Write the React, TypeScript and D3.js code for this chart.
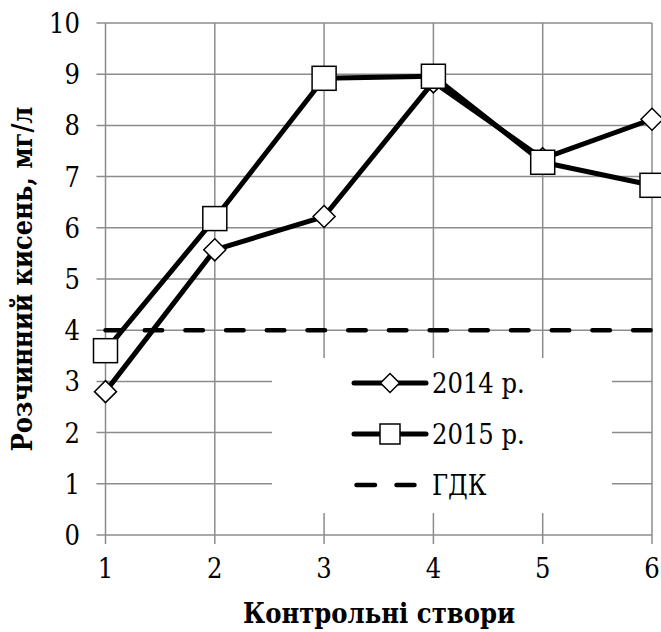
import { useEffect, useRef } from 'react';
import * as d3 from 'd3';

// дані
const stations = [1, 2, 3, 4, 5, 6];
const values2014 = [2.8, 5.57, 6.22, 8.85, 7.35, 8.12];
const values2015 = [3.6, 6.18, 8.92, 8.96, 7.28, 6.83];
const gdk = 4;
const yTicks = [0, 1, 2, 3, 4, 5, 6, 7, 8, 9, 10];
const legendLabels = ['2014 р.', '2015 р.', 'ГДК'];

const W = 661;
const H = 632;
// Liberation Serif тут рендериться як sans, тому беремо DejaVu Serif Condensed
const FONT = "'DejaVu Serif Condensed', 'DejaVu Serif'";
const GRID = '#8c8c8c';

export default function App() {
  const ref = useRef<SVGSVGElement | null>(null);

  useEffect(() => {
    if (!ref.current) return;
    const svg = d3.select(ref.current);
    svg.selectAll('*').remove();

    const x = d3.scaleLinear().domain([1, 6]).range([105.5, 652]);
    const y = d3.scaleLinear().domain([0, 10]).range([535, 23]);

    const g = svg.append('g');

    // сітка
    g.selectAll('line.hgrid')
      .data(yTicks)
      .enter()
      .append('line')
      .attr('x1', x(1) - 9)
      .attr('x2', x(6))
      .attr('y1', d => y(d))
      .attr('y2', d => y(d))
      .attr('stroke', GRID)
      .attr('stroke-width', 1.5);

    g.selectAll('line.vgrid')
      .data(stations)
      .enter()
      .append('line')
      .attr('x1', d => x(d))
      .attr('x2', d => x(d))
      .attr('y1', y(10))
      .attr('y2', y(0) + 9)
      .attr('stroke', GRID)
      .attr('stroke-width', 1.5);

    // підписи осей
    g.selectAll('text.ytick')
      .data(yTicks)
      .enter()
      .append('text')
      .attr('x', 80)
      .attr('y', d => y(d) + 10)
      .attr('text-anchor', 'end')
      .style('font-family', FONT)
      .style('font-size', '27px')
      .text(d => d);

    g.selectAll('text.xtick')
      .data(stations)
      .enter()
      .append('text')
      .attr('x', d => x(d))
      .attr('y', 578)
      .attr('text-anchor', 'middle')
      .style('font-family', FONT)
      .style('font-size', '27px')
      .text(d => d);

    // ГДК
    g.append('line')
      .attr('x1', x(1))
      .attr('x2', x(6))
      .attr('y1', y(gdk))
      .attr('y2', y(gdk))
      .attr('stroke', '#000')
      .attr('stroke-width', 4.5)
      .attr('stroke-linecap', 'round')
      .attr('stroke-dasharray', '17.5 23.2')
      .attr('stroke-dashoffset', 1.5);

    const line = d3.line<number>()
      .x((_, i) => x(stations[i]))
      .y(d => y(d));

    const diamond = (cx: number, cy: number, r: number) =>
      `M${cx},${cy - r}L${cx + r},${cy}L${cx},${cy + r}L${cx - r},${cy}Z`;

    // 2014
    g.append('path')
      .datum(values2014)
      .attr('d', line)
      .attr('fill', 'none')
      .attr('stroke', '#000')
      .attr('stroke-width', 5)
      .attr('stroke-linejoin', 'round');
    g.selectAll('path.m14')
      .data(values2014)
      .enter()
      .append('path')
      .attr('d', (d, i) => diamond(x(stations[i]), y(d), 11))
      .attr('fill', '#fff')
      .attr('stroke', '#000')
      .attr('stroke-width', 1.5);

    // 2015
    g.append('path')
      .datum(values2015)
      .attr('d', line)
      .attr('fill', 'none')
      .attr('stroke', '#000')
      .attr('stroke-width', 5)
      .attr('stroke-linejoin', 'round');
    g.selectAll('rect.m15')
      .data(values2015)
      .enter()
      .append('rect')
      .attr('x', (d, i) => x(stations[i]) - 12)
      .attr('y', d => y(d) - 12)
      .attr('width', 24)
      .attr('height', 24)
      .attr('fill', '#fff')
      .attr('stroke', '#000')
      .attr('stroke-width', 1.5);

    // легенда
    const lg = g.append('g');
    lg.append('rect')
      .attr('x', 272)
      .attr('y', 358)
      .attr('width', 340)
      .attr('height', 155)
      .attr('fill', '#fff');

    const rowY = [383, 434, 485];
    const lx1 = 354;
    const lx2 = 426;
    const lmid = (lx1 + lx2) / 2;

    [0, 1].forEach(i => {
      lg.append('line')
        .attr('x1', lx1)
        .attr('x2', lx2)
        .attr('y1', rowY[i])
        .attr('y2', rowY[i])
        .attr('stroke', '#000')
        .attr('stroke-width', 5)
        .attr('stroke-linecap', 'round');
    });
    lg.append('path')
      .attr('d', diamond(lmid, rowY[0], 9.5))
      .attr('fill', '#fff')
      .attr('stroke', '#000')
      .attr('stroke-width', 1.5);
    lg.append('rect')
      .attr('x', lmid - 10)
      .attr('y', rowY[1] - 10)
      .attr('width', 20)
      .attr('height', 20)
      .attr('fill', '#fff')
      .attr('stroke', '#000')
      .attr('stroke-width', 1.5);
    lg.append('line')
      .attr('x1', 356.5)
      .attr('x2', 414.5)
      .attr('y1', rowY[2])
      .attr('y2', rowY[2])
      .attr('stroke', '#000')
      .attr('stroke-width', 4.5)
      .attr('stroke-linecap', 'round')
      .attr('stroke-dasharray', '18.5 21.5');

    lg.selectAll('text.leg')
      .data(legendLabels)
      .enter()
      .append('text')
      .attr('x', 432)
      .attr('y', (_, i) => rowY[i] + 10)
      .style('font-family', FONT)
      .style('font-size', '27px')
      .text(d => d);

    // назви осей
    g.append('text')
      .attr('x', 379)
      .attr('y', 623)
      .attr('text-anchor', 'middle')
      .attr('textLength', 272)
      .attr('lengthAdjust', 'spacingAndGlyphs')
      .style('font-family', FONT)
      .style('font-size', '28px')
      .style('font-weight', 'bold')
      .text('Контрольні створи');

    g.append('text')
      .attr('transform', `translate(32, ${y(5)}) rotate(-90)`)
      .attr('text-anchor', 'middle')
      .attr('textLength', 345)
      .attr('lengthAdjust', 'spacingAndGlyphs')
      .style('font-family', FONT)
      .style('font-size', '28px')
      .style('font-weight', 'bold')
      .text('Розчинний кисень, мг/л');
  }, []);

  return (
    <svg
      ref={ref}
      width={W}
      height={H}
      style={{ position: 'absolute', left: 0, top: 0, background: '#fff' }}
    />
  );
}
